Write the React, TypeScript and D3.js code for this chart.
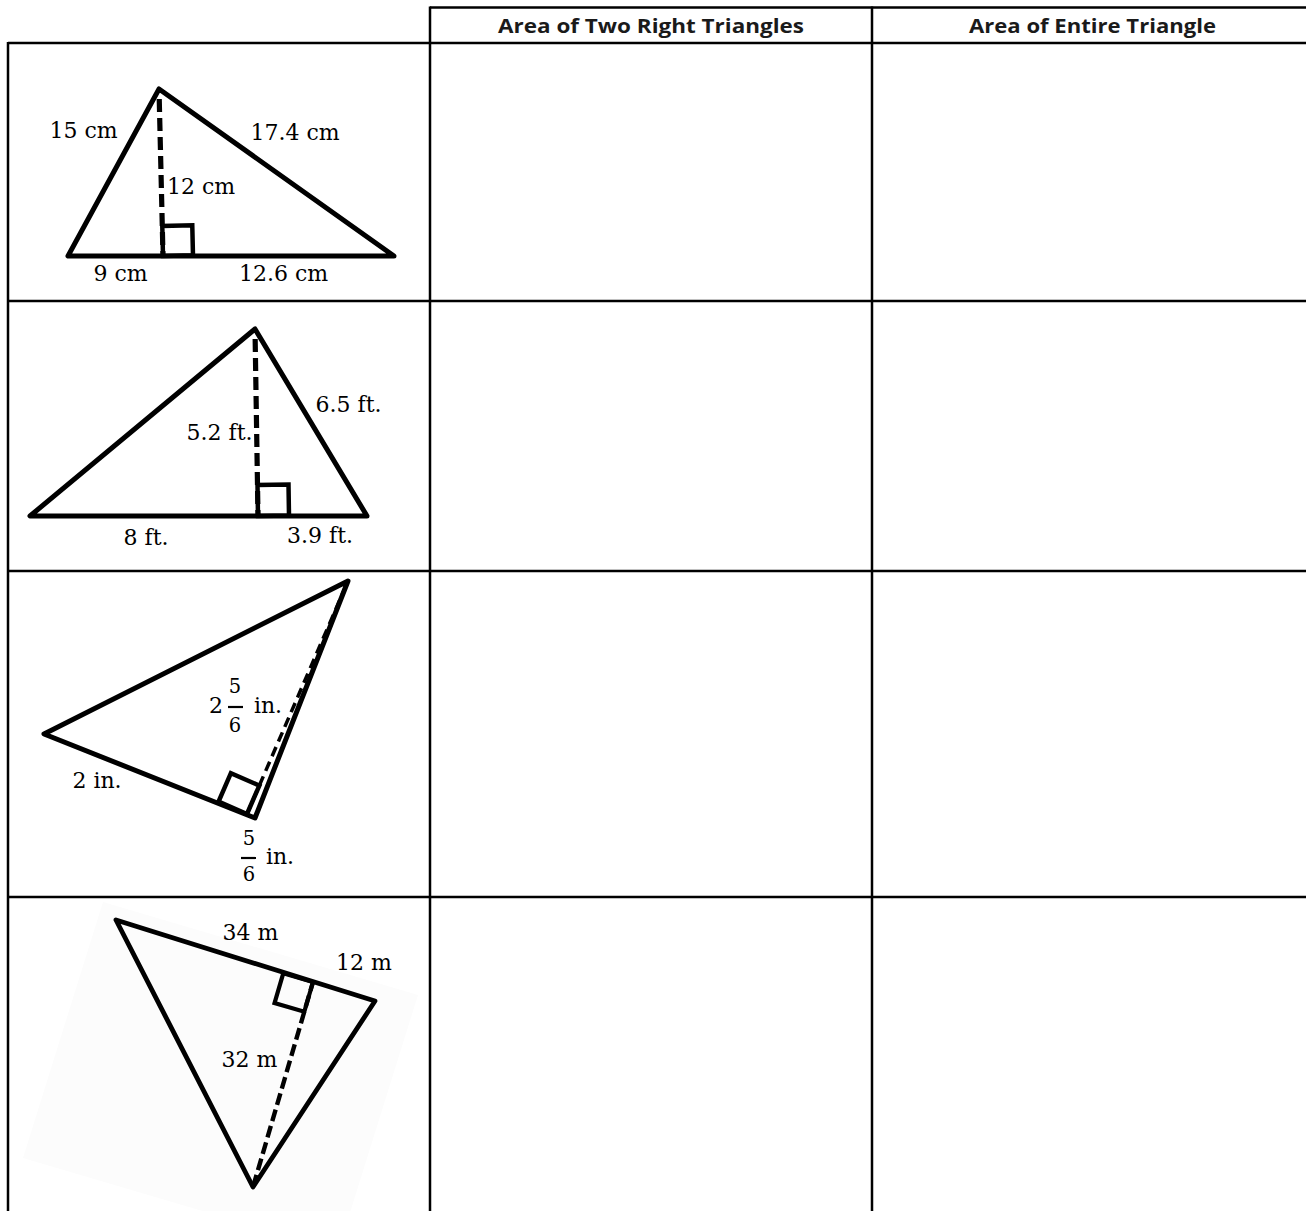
import React, { useEffect, useRef } from 'react';
import * as d3 from 'd3';

const WIDTH = 1306;
const HEIGHT = 1211;

// column titles of the worksheet table
const HEADERS = ['', 'Area of Two Right Triangles', 'Area of Entire Triangle'];
const HEADER_WIDTHS = [0, 306, 247];

// measurements written on each triangle
const T1_LABELS = ['15 cm', '17.4 cm', '12 cm', '9 cm', '12.6 cm'];
const T2_LABELS = ['6.5 ft.', '5.2 ft.', '8 ft.', '3.9 ft.'];
const T3_LABELS = ['2 in.'];
const T3_FRACTIONS = [
  { whole: '2', num: '5', den: '6', unit: 'in.' },
  { whole: '', num: '5', den: '6', unit: 'in.' },
];
const T4_LABELS = ['34 m', '12 m', '32 m'];

// table grid
const COL_EDGES = [8, 430, 872, WIDTH];
const ROW_EDGES = [43, 301, 571, 897, HEIGHT];
const TOP_LINE = 7.5;

const SERIF = '"DejaVu Serif", "Liberation Serif", serif';
const SANS = '"Open Sans", Lato, sans-serif';
const LABEL_SIZE = 22;
const FRAC_SIZE = 19.5;

type Pt = [number, number];

// figure geometry, in pixels from the top-left corner of its cell
const FIGURES = [
  {
    verts: [[151, 46], [60, 213], [386, 213]] as Pt[],
    foot: [155, 213] as Pt, altEnd: 0, toward: 2, box: 30,
    edge: 5, dash: 5.2, dashArray: '13,6', boxWidth: 4.5,
    labels: T1_LABELS,
    labelAt: [[75.5, 95], [287, 97], [193, 151], [112.5, 238], [275.5, 238]] as Pt[],
  },
  {
    verts: [[247, 28], [22, 215], [359, 215]] as Pt[],
    foot: [250, 215] as Pt, altEnd: 0, toward: 2, box: 31,
    edge: 5, dash: 5.2, dashArray: '13,6', boxWidth: 4.5,
    labels: T2_LABELS,
    labelAt: [[340.5, 111], [211.5, 139], [138, 244], [312, 242]] as Pt[],
  },
  {
    verts: [[340, 10], [36, 163], [247, 247]] as Pt[],
    foot: [239, 243] as Pt, altEnd: 0, toward: 1, box: 31,
    edge: 5, dash: 3.5, dashArray: '10,6', boxWidth: 4.5,
    labels: T3_LABELS,
    labelAt: [[89, 217]] as Pt[],
  },
  {
    verts: [[108, 23], [367, 104], [245, 290]] as Pt[],
    foot: [305, 85] as Pt, altEnd: 2, toward: 0, box: 31,
    edge: 4.8, dash: 4.4, dashArray: '12,5', boxWidth: 4.2,
    labels: T4_LABELS,
    labelAt: [[242.5, 43], [356, 73], [241.5, 170]] as Pt[],
  },
];

// fraction placements for the third figure
const FRACTION_AT = [
  { whole: [208, 142], num: [227, 122], bar: [220, 235, 136], den: [227, 161], unit: [260, 142] },
  { whole: [0, 0], num: [241, 274], bar: [233, 248, 287], den: [241, 310], unit: [272, 293] },
];

// faint rotated paper behind the last figure
const T4_PAPER: Pt[] = [[95, 5], [410, 98], [330, 354], [15, 261]];

const App = () => {
  const ref = useRef<SVGSVGElement>(null);

  useEffect(() => {
    const svg = d3.select(ref.current);
    svg.selectAll('*').remove();

    const defs = svg.append('defs');
    defs.append('filter').attr('id', 'soft')
      .append('feGaussianBlur').attr('stdDeviation', 0.45);

    const line = d3.line<Pt>();

    // faint paper (drawn first so the grid sits on top)
    const cell4 = svg.append('g').attr('transform', `translate(${COL_EDGES[0]},${ROW_EDGES[3]})`);
    cell4.append('path')
      .attr('d', line(T4_PAPER) + 'Z')
      .attr('fill', '#fcfcfc');

    // grid
    const grid = svg.append('g').attr('stroke', '#000').attr('stroke-width', 2.5);
    grid.append('line')
      .attr('x1', COL_EDGES[1]).attr('x2', WIDTH)
      .attr('y1', TOP_LINE).attr('y2', TOP_LINE);
    grid.selectAll('.hline')
      .data(ROW_EDGES.slice(0, -1))
      .enter()
      .append('line')
      .attr('x1', COL_EDGES[0]).attr('x2', WIDTH)
      .attr('y1', d => d).attr('y2', d => d);
    grid.selectAll('.vline')
      .data(COL_EDGES.slice(0, -1))
      .enter()
      .append('line')
      .attr('x1', d => d).attr('x2', d => d)
      .attr('y1', (d, i) => (i === 0 ? ROW_EDGES[0] - 1 : TOP_LINE - 1))
      .attr('y2', HEIGHT);

    // headers
    svg.selectAll('.header')
      .data(HEADERS.slice(1))
      .enter()
      .append('text')
      .attr('x', (d, i) => (COL_EDGES[i + 1] + COL_EDGES[i + 2]) / 2 + (i === 1 ? 3.5 : 0))
      .attr('y', 33)
      .attr('text-anchor', 'middle')
      .attr('font-family', SANS)
      .attr('font-weight', 700)
      .attr('font-size', 20)
      .attr('textLength', (d, i) => HEADER_WIDTHS[i + 1])
      .attr('lengthAdjust', 'spacingAndGlyphs')
      .attr('fill', '#1a1a1a')
      .text(d => d);

    // triangles
    FIGURES.forEach((fig, r) => {
      const g = svg.append('g')
        .attr('transform', `translate(${COL_EDGES[0]},${ROW_EDGES[r]})`);
      const shapes = g.append('g');
      if (r === 3) shapes.attr('filter', 'url(#soft)');

      shapes.append('path')
        .attr('d', line(fig.verts) + 'Z')
        .attr('fill', 'none')
        .attr('stroke', '#000')
        .attr('stroke-width', fig.edge)
        .attr('stroke-linejoin', 'round');

      const F = fig.foot;
      const E = fig.verts[fig.altEnd];
      const T = fig.verts[fig.toward];
      const len = Math.hypot(E[0] - F[0], E[1] - F[1]);
      const u: Pt = [(E[0] - F[0]) / len, (E[1] - F[1]) / len];
      let w: Pt = [u[1], -u[0]];
      if (w[0] * (T[0] - F[0]) + w[1] * (T[1] - F[1]) < 0) w = [-w[0], -w[1]];
      const s = fig.box;

      shapes.append('path')
        .attr('d', line([F, E]))
        .attr('stroke', '#000')
        .attr('stroke-width', fig.dash)
        .attr('stroke-dasharray', fig.dashArray)
        .attr('stroke-dashoffset', -s);

      const sq: Pt[] = [
        F,
        [F[0] + s * w[0], F[1] + s * w[1]],
        [F[0] + s * w[0] + s * u[0], F[1] + s * w[1] + s * u[1]],
        [F[0] + s * u[0], F[1] + s * u[1]],
      ];
      shapes.append('path')
        .attr('d', line(sq) + 'Z')
        .attr('fill', 'none')
        .attr('stroke', '#000')
        .attr('stroke-width', fig.boxWidth)
        .attr('stroke-linejoin', 'miter');

      g.selectAll('.label')
        .data(fig.labels)
        .enter()
        .append('text')
        .attr('x', (d, i) => fig.labelAt[i][0])
        .attr('y', (d, i) => fig.labelAt[i][1])
        .attr('text-anchor', 'middle')
        .attr('font-family', SERIF)
        .attr('font-size', LABEL_SIZE)
        .attr('fill', '#000')
        .text(d => d);
    });

    // fractions on the third triangle
    const g3 = svg.append('g')
      .attr('transform', `translate(${COL_EDGES[0]},${ROW_EDGES[2]})`)
      .attr('font-family', SERIF)
      .attr('text-anchor', 'middle')
      .attr('fill', '#000');
    T3_FRACTIONS.forEach((f, i) => {
      const at = FRACTION_AT[i];
      if (f.whole) {
        g3.append('text').attr('x', at.whole[0]).attr('y', at.whole[1])
          .attr('font-size', LABEL_SIZE).text(f.whole);
      }
      g3.append('text').attr('x', at.num[0]).attr('y', at.num[1])
        .attr('font-size', FRAC_SIZE).text(f.num);
      g3.append('line')
        .attr('x1', at.bar[0]).attr('x2', at.bar[1])
        .attr('y1', at.bar[2]).attr('y2', at.bar[2])
        .attr('stroke', '#000').attr('stroke-width', 2.2);
      g3.append('text').attr('x', at.den[0]).attr('y', at.den[1])
        .attr('font-size', FRAC_SIZE).text(f.den);
      g3.append('text').attr('x', at.unit[0]).attr('y', at.unit[1])
        .attr('font-size', LABEL_SIZE).text(f.unit);
    });
  }, []);

  return (
    <svg
      ref={ref}
      width={WIDTH}
      height={HEIGHT}
      style={{ position: 'absolute', left: 0, top: 0, background: '#fff', display: 'block' }}
    />
  );
};

export default App;
